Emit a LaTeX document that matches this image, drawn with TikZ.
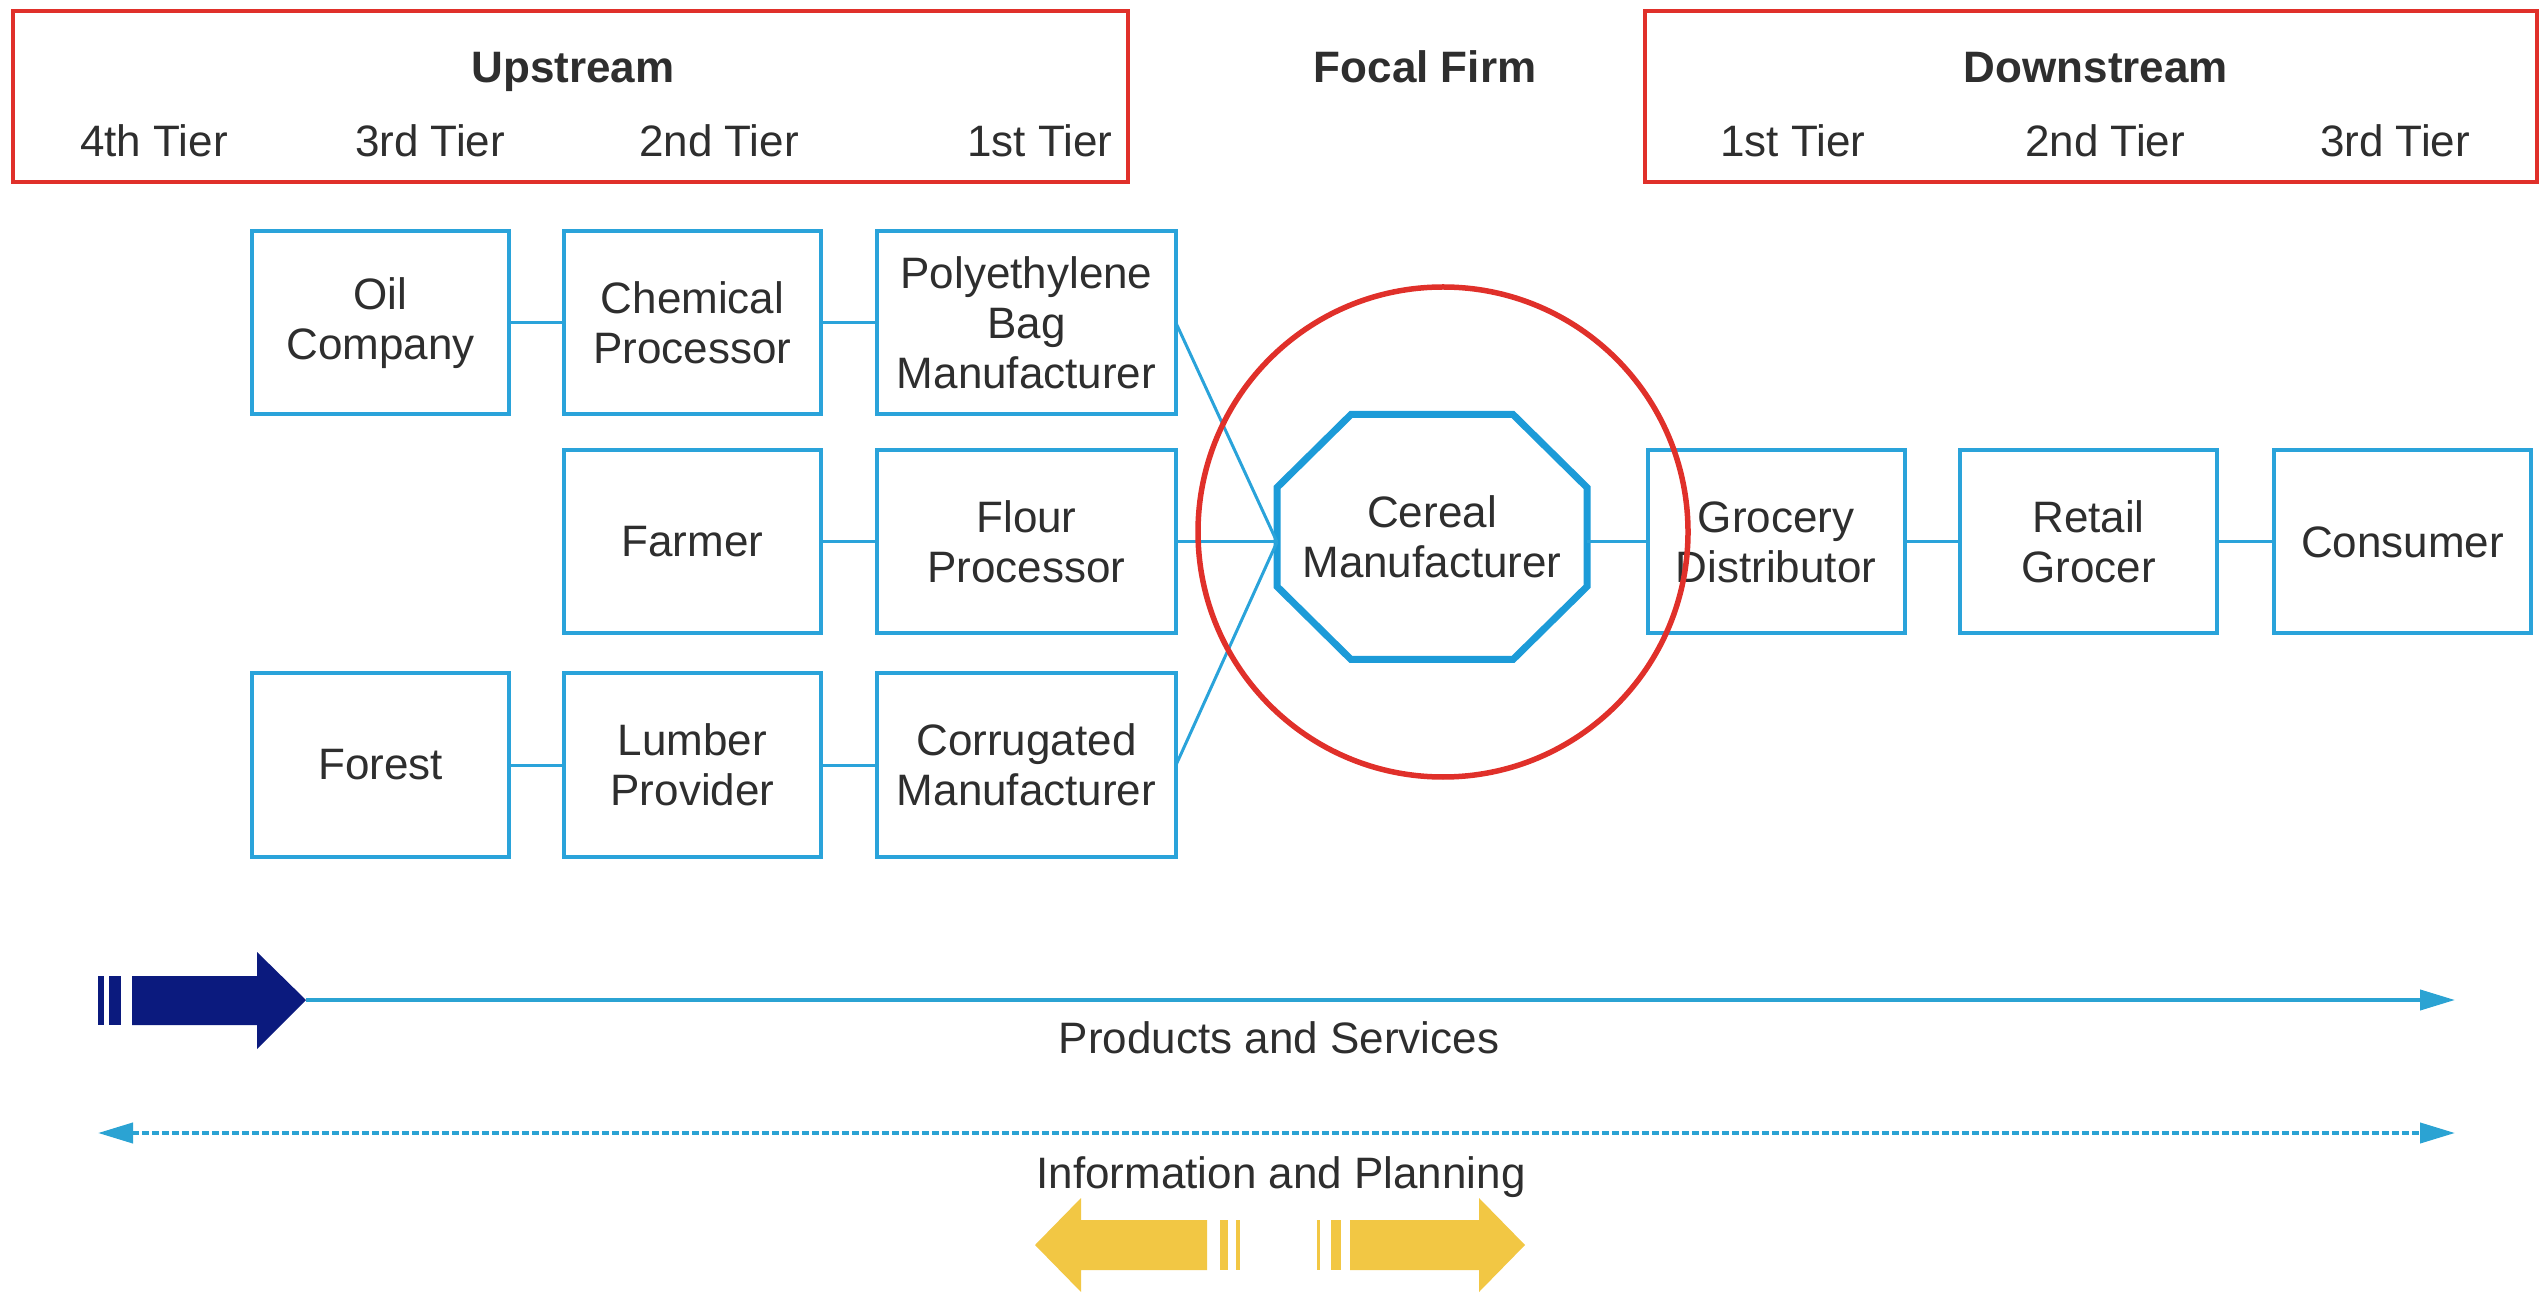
\documentclass[tikz,border=0pt]{standalone}
\usepackage{fontspec}
\setmainfont{Liberation Sans}
\usetikzlibrary{arrows.meta,calc}
\definecolor{boxblue}{HTML}{2AA3DA}
\definecolor{octblue}{HTML}{1C9BD8}
\definecolor{hdrred}{HTML}{E0302A}
\definecolor{navy}{HTML}{0B1A7E}
\definecolor{gold}{HTML}{F2C744}
\definecolor{txt}{HTML}{2E2E2E}
\definecolor{flow}{HTML}{2BA3D3}
\begin{document}
\begin{tikzpicture}[x=0.5pt,y=-0.5pt,
  >={Triangle[length=17.5pt,width=10pt]},
  every node/.style={font=\fontsize{22}{25}\selectfont, text=txt},
  entity/.style={draw=boxblue, line width=2pt, align=center, minimum width=128.5pt, minimum height=91.5pt, inner sep=0pt, outer sep=0pt},
  widebox/.style={entity, minimum width=149.5pt},
  link/.style={draw=boxblue, line width=1.5pt},
  header/.style={draw=hdrred, line width=2pt, inner sep=0pt, outer sep=0pt, minimum height=85.5pt},
  lbl/.style={anchor=base, inner sep=0pt},
  hdr/.style={lbl, font=\fontsize{22}{25}\selectfont\bfseries},
  flowline/.style={draw=flow, line width=2pt}
]
\useasboundingbox (0,0) rectangle (2548,1293);

% headers
\node[header, minimum width=557.5pt] (up) at (570.5,96.5) {};
\node[header, minimum width=446pt] (down) at (2091,96.5) {};
\node[hdr] (upt) at (573,83) {Upstream};
\node[lbl] (u4) at (154,157) {4th Tier};
\node[lbl] (u3) at (430,157) {3rd Tier};
\node[lbl] (u2) at (719,157) {2nd Tier};
\node[lbl] (u1) at (1040,157) {1st Tier};
\node[hdr] (ff) at (1425,83) {Focal Firm};
\node[hdr] (dt) at (2096,83) {Downstream};
\node[lbl] (d1) at (1793,157) {1st Tier};
\node[lbl] (d2) at (2105,157) {2nd Tier};
\node[lbl] (d3) at (2395,157) {3rd Tier};

% upstream boxes
\node[entity] (oil) at (380.5,323) {Oil\\Company};
\node[entity] (chem) at (692.5,323) {Chemical\\Processor};
\node[widebox] (poly) at (1026.5,323) {Polyethylene\\Bag\\Manufacturer};
\node[entity] (farm) at (692.5,542) {Farmer};
\node[widebox] (flour) at (1026.5,542) {Flour\\Processor};
\node[entity] (forest) at (380.5,765) {Forest};
\node[entity] (lumber) at (692.5,765) {Lumber\\Provider};
\node[widebox] (corr) at (1026.5,765) {Corrugated\\Manufacturer};

% focal firm
\node[minimum width=155pt, minimum height=122.5pt, inner sep=0pt, outer sep=0pt, align=center] (cm) at (1432,537) {Cereal\\Manufacturer};
\draw[octblue, line width=3.5pt, line join=miter]
  ($(cm.north west)+(74,0)$) -- ($(cm.north east)+(-74,0)$) --
  ($(cm.north east)+(0,73)$) -- ($(cm.south east)+(0,-73)$) --
  ($(cm.south east)+(-74,0)$) -- ($(cm.south west)+(74,0)$) --
  ($(cm.south west)+(0,-73)$) -- ($(cm.north west)+(0,73)$) -- cycle;

% downstream boxes
\node[entity] (groc) at (1776,542) {Grocery\\Distributor};
\node[entity] (retail) at (2088.5,542) {Retail\\Grocer};
\node[entity] (cons) at (2402.5,542) {Consumer};

% connectors
\draw[link] (oil) -- (chem);
\draw[link] (chem) -- (poly);
\draw[link] (farm) -- (flour);
\draw[link] (forest) -- (lumber);
\draw[link] (lumber) -- (corr);
\draw[link] (poly.east) -- (flour.east -| cm.west);
\draw[link] (flour.east) -- (flour.east -| cm.west);
\draw[link] (corr.east) -- (flour.east -| cm.west);
\draw[link] (groc.west -| cm.east) -- (groc.west);
\draw[link] (groc) -- (retail);
\draw[link] (retail) -- (cons);

% red focus circle
\node[circle, draw=hdrred, line width=2.75pt, minimum size=245pt, inner sep=0pt, outer sep=0pt] (focus) at (1443,532) {};

% products and services
\fill[navy] (132,976) -- (257,976) -- (257,952) -- (306,1000) -- (257,1049) -- (257,1025) -- (132,1025) -- cycle;
\fill[navy] (98,976) rectangle (104,1025);
\fill[navy] (109,976) rectangle (121,1025);
\coordinate (psa) at (306,1000);
\coordinate (psb) at (2455,1000);
\draw[flowline, ->] (psa) -- (psb);
\node[lbl] (pst) at (1279,1053) {Products and Services};

% information and planning
\coordinate (ipa) at (98,1133);
\coordinate (ipb) at (2455,1133);
\draw[flowline, dash pattern=on 3.5pt off 1.5pt, <->] (ipa) -- (ipb);
\node[lbl] (ipt) at (1281,1188) {Information and Planning};

\fill[gold] (1035,1245) -- (1081,1198) -- (1081,1220) -- (1207,1220) -- (1207,1270) -- (1081,1270) -- (1081,1292) -- cycle;
\fill[gold] (1220,1220) rectangle (1228,1270);
\fill[gold] (1236,1220) rectangle (1240,1270);
\fill[gold] (1317,1220) rectangle (1320,1270);
\fill[gold] (1331,1220) rectangle (1341,1270);
\fill[gold] (1350,1220) -- (1479,1220) -- (1479,1198) -- (1525,1245) -- (1479,1292) -- (1479,1270) -- (1350,1270) -- cycle;
\end{tikzpicture}
\end{document}
